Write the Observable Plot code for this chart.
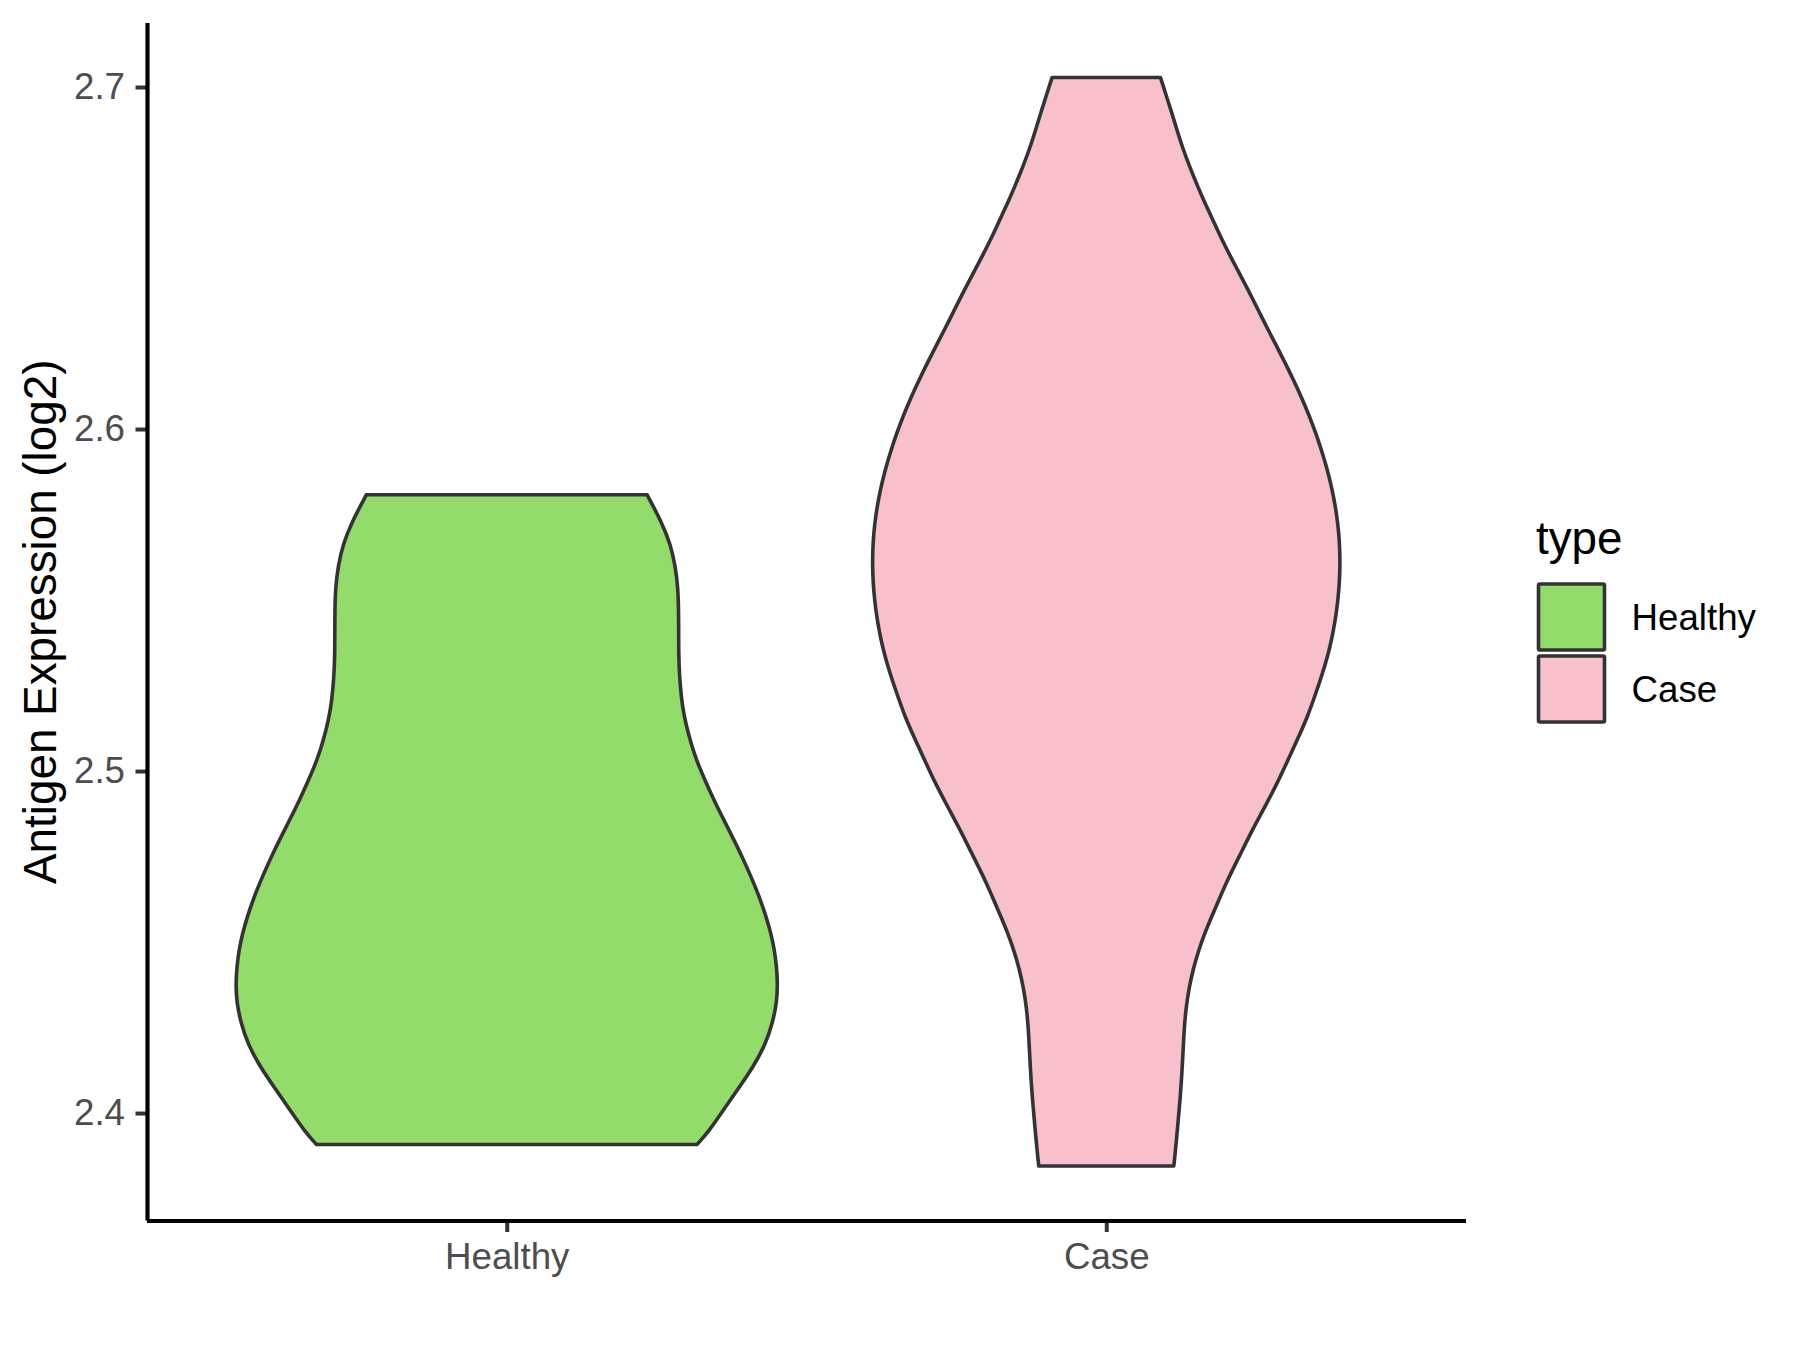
<!DOCTYPE html>
<html>
<head>
<meta charset="utf-8">
<script src="https://cdn.jsdelivr.net/npm/d3@7"></script>
<script src="https://cdn.jsdelivr.net/npm/@observablehq/plot@0.6"></script>
<style>
  html, body { margin: 0; padding: 0; background: #ffffff; }
  #chart { position: relative; width: 1800px; height: 1350px; }
</style>
</head>
<body>
<div id="chart"></div>
<script>
// Categories and colours
const categories = ["Healthy", "Case"];
const fillColors = ["#93DB6B", "#F8C0CB"];

// Violin outlines: expression value (log2) and half-width (in category units)
const healthyValues = [2.5808, 2.5726, 2.5663, 2.5599, 2.5535, 2.5473, 2.5408, 2.5345, 2.5281, 2.5209,
  2.5161, 2.5112, 2.5063, 2.5014, 2.4966, 2.4917, 2.4868, 2.4819, 2.4771, 2.4722,
  2.4673, 2.4624, 2.4575, 2.4527, 2.4478, 2.4429, 2.4381, 2.4327, 2.4264, 2.4200,
  2.4137, 2.4073, 2.4010, 2.3946, 2.3908];
const healthyHalfWidths = [0.2340, 0.2590, 0.2730, 0.2813, 0.2856, 0.2866, 0.2868, 0.2868, 0.2880, 0.2915,
  0.2960, 0.3025, 0.3105, 0.3205, 0.3325, 0.3452, 0.3590, 0.3730, 0.3869, 0.3997,
  0.4119, 0.4230, 0.4325, 0.4405, 0.4464, 0.4500, 0.4518, 0.4507, 0.4436, 0.4314,
  0.4119, 0.3869, 0.3618, 0.3368, 0.3173];

const caseValues = [2.7028, 2.6977, 2.6925, 2.6873, 2.6821, 2.6769, 2.6716, 2.6664, 2.6612, 2.6559,
  2.6507, 2.6455, 2.6403, 2.6351, 2.6298, 2.6246, 2.6194, 2.6142, 2.6089, 2.6037,
  2.5985, 2.5941, 2.5893, 2.5844, 2.5795, 2.5746, 2.5697, 2.5648, 2.5600, 2.5551,
  2.5502, 2.5453, 2.5405, 2.5356, 2.5307, 2.5258, 2.5210, 2.5161, 2.5112, 2.5063,
  2.5015, 2.4966, 2.4917, 2.4868, 2.4820, 2.4771, 2.4722, 2.4673, 2.4636, 2.4582,
  2.4528, 2.4474, 2.4420, 2.4365, 2.4311, 2.4257, 2.4203, 2.4149, 2.4095, 2.4041,
  2.3987, 2.3932, 2.3878, 2.3845];
const caseHalfWidths = [0.0904, 0.0997, 0.1092, 0.1181, 0.1276, 0.1387, 0.1509, 0.1637, 0.1776, 0.1914,
  0.2064, 0.2221, 0.2376, 0.2526, 0.2676, 0.2831, 0.2981, 0.3127, 0.3265, 0.3390,
  0.3500, 0.3585, 0.3668, 0.3740, 0.3799, 0.3846, 0.3878, 0.3895, 0.3899, 0.3889,
  0.3865, 0.3830, 0.3782, 0.3722, 0.3645, 0.3555, 0.3460, 0.3360, 0.3240, 0.3110,
  0.2985, 0.2855, 0.2710, 0.2560, 0.2415, 0.2276, 0.2137, 0.2000, 0.1910, 0.1776,
  0.1647, 0.1537, 0.1448, 0.1380, 0.1333, 0.1304, 0.1287, 0.1271, 0.1254, 0.1231,
  0.1204, 0.1176, 0.1147, 0.1126];

// Tick values
const yTicks = [2.4, 2.5, 2.6, 2.7];
const xTicks = [1, 2];

const yTitle = "Antigen Expression (log2)";
const legendTitle = "type";

// Build tables
function rows(type, pos, values, widths) {
  return values.map((v, i) => ({type, pos, v, w: widths[i]}));
}
const healthyRows = rows("Healthy", 1, healthyValues, healthyHalfWidths);
const caseRows = rows("Case", 2, caseValues, caseHalfWidths);

const allV = healthyValues.concat(caseValues);
const vMin = d3.min(allV), vMax = d3.max(allV);
const pad = (vMax - vMin) * 0.05;
const yDomain = [vMin - pad, vMax + pad];

const W = 1800, H = 1350;
const mL = 147, mR = 334, mT = 23, mB = 129.5;
const font = "'Liberation Sans', Arial, Helvetica, sans-serif";

const violin = (data, color) => Plot.areaX(data, {
  y: "v",
  x1: d => d.pos - d.w,
  x2: d => d.pos + d.w,
  fill: color,
  stroke: "#333333",
  strokeWidth: 3.6,
  strokeLinejoin: "round",
  curve: "basis"
});

const chart = Plot.plot({
  width: W,
  height: H,
  marginLeft: mL,
  marginRight: mR,
  marginTop: mT,
  marginBottom: mB,
  style: {fontFamily: font, background: "#ffffff", overflow: "visible"},
  x: {domain: [0.4, 2.6], axis: null},
  y: {domain: yDomain, axis: null},
  marks: [
    violin(healthyRows, fillColors[0]),
    violin(caseRows, fillColors[1]),
    Plot.axisY({
      ticks: yTicks,
      tickFormat: d3.format(".1f"),
      tickSize: 11.5,
      tickPadding: 11,
      fontSize: 36.7,
      strokeWidth: 4,
      label: null
    }),
    Plot.axisX({
      ticks: xTicks,
      tickFormat: d => categories[d - 1],
      tickSize: 11.5,
      tickPadding: 10,
      fontSize: 36.7,
      strokeWidth: 4,
      label: null
    }),
    Plot.ruleX([0.4], {stroke: "#000000", strokeWidth: 4.2}),
    Plot.ruleY([yDomain[0]], {stroke: "#000000", strokeWidth: 4.2})
  ]
});

document.getElementById("chart").appendChild(chart);

const svg = d3.select(chart);
svg.selectAll('g[aria-label$="tick label"]').attr("fill", "#4D4D4D");
svg.selectAll('g[aria-label$="axis tick"]').attr("stroke", "#333333");

// Y axis title
svg.append("text")
  .attr("transform", `translate(56,${(mT + (H - mB)) / 2}) rotate(-90)`)
  .attr("text-anchor", "middle")
  .attr("font-size", 45.8)
  .attr("font-family", font)
  .attr("fill", "#000000")
  .text(yTitle);

// Legend
const lg = svg.append("g").attr("font-family", font).attr("text-anchor", "start");
lg.append("text")
  .attr("x", 1536)
  .attr("y", 554)
  .attr("text-anchor", "start")
  .attr("font-size", 45.8)
  .attr("fill", "#000000")
  .text(legendTitle);
categories.forEach((c, i) => {
  const top = 584 + i * 72;
  lg.append("rect")
    .attr("x", 1538.5).attr("y", top)
    .attr("width", 66).attr("height", 66)
    .attr("rx", 1.5)
    .attr("fill", fillColors[i])
    .attr("stroke", "#333333")
    .attr("stroke-width", 3.6);
  lg.append("text")
    .attr("x", 1631.5)
    .attr("y", top + 33)
    .attr("dy", "0.36em")
    .attr("text-anchor", "start")
    .attr("font-size", 36.7)
    .attr("fill", "#000000")
    .text(c);
});
</script>
</body>
</html>
